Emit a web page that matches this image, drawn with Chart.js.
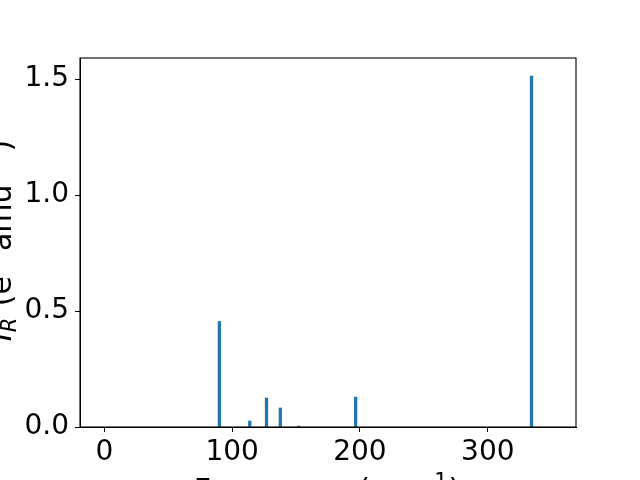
<!DOCTYPE html>
<html>
<head>
<meta charset="utf-8">
<script src="https://cdn.jsdelivr.net/npm/chart.js@4.4.1/dist/chart.umd.min.js"></script>
<style>
  body { margin: 0; background: #fff; }
  #wrap { width: 640px; height: 480px; }
</style>
</head>
<body>
<div id="wrap"><canvas id="irChart" width="640" height="480"></canvas></div>
<script>
// frequencies (cm^-1) and IR intensities
const frequencies = [90.0, 113.8, 126.9, 137.7, 152.0, 196.6, 334.2];
const intensities = [0.455, 0.026, 0.125, 0.082, 0.004, 0.129, 1.513];
const xTicks = [0, 100, 200, 300];
const yTicks = [0.0, 0.5, 1.0, 1.5];

const FONT = 'DejaVu Sans';
const BIG = 28;
const TITLE = 30;
const SMALL = 21;

// draws text pieces with sub/superscripts, centred on (0,0) of current transform
const drawRich = (ctx, parts) => {
    let total = 0;
    parts.forEach(p => {
        ctx.font = (p.italic ? 'italic ' : '') + p.size + 'px "' + FONT + '"';
        p.w = ctx.measureText(p.t).width + (p.gap || 0);
        total += p.w;
    });
    let x = -total / 2;
    parts.forEach(p => {
        ctx.font = (p.italic ? 'italic ' : '') + p.size + 'px "' + FONT + '"';
        ctx.fillText(p.t, x, p.dy || 0);
        x += p.w;
    });
};

const frameAndTitles = {
    id: 'frameAndTitles',
    afterDraw(chart) {
        const ctx = chart.ctx;
        const a = chart.chartArea;
        ctx.save();
        ctx.strokeStyle = '#000';
        ctx.lineWidth = 1.1;
        ctx.strokeRect(a.left, a.top, a.right - a.left, a.bottom - a.top);

        ctx.fillStyle = '#000';
        ctx.textBaseline = 'alphabetic';
        ctx.textAlign = 'left';

        // x title
        ctx.save();
        ctx.translate((a.left + a.right) / 2 - 1, 500);
        drawRich(ctx, [
            { t: 'Frequency (cm', size: TITLE, gap: 1 },
            { t: '\u22121', size: SMALL, dy: -12, gap: 1 },
            { t: ')', size: TITLE }
        ]);
        ctx.restore();

        // y title
        ctx.save();
        ctx.translate(11, (a.top + a.bottom) / 2 - 2);
        ctx.rotate(-Math.PI / 2);
        drawRich(ctx, [
            { t: 'I', size: TITLE, italic: true },
            { t: 'R', size: SMALL, italic: true, dy: 5, gap: 2 },
            { t: ' (e', size: TITLE, gap: 1 },
            { t: '2', size: SMALL, dy: -12, gap: 1 },
            { t: ' amu', size: TITLE, gap: 1 },
            { t: '\u22121', size: SMALL, dy: -12, gap: 1 },
            { t: ')', size: TITLE }
        ]);
        ctx.restore();
        ctx.restore();
    }
};

new Chart(document.getElementById('irChart'), {
    type: 'bar',
    data: {
        datasets: [{
            data: frequencies.map((f, i) => ({ x: f, y: intensities[i] })),
            backgroundColor: '#1f77b4',
            borderWidth: 0,
            barThickness: 2.6
        }]
    },
    options: {
        responsive: false,
        animation: false,
        layout: { padding: { top: 58, right: 64, left: 0, bottom: 0 } },
        plugins: {
            legend: { display: false },
            tooltip: { enabled: false }
        },
        scales: {
            x: {
                type: 'linear',
                min: -19,
                max: 369,
                offset: false,
                afterBuildTicks: s => { s.ticks = xTicks.map(v => ({ value: v })); },
                afterFit: s => { s.height = 53; },
                grid: {
                    drawOnChartArea: false,
                    offset: false,
                    tickLength: 5,
                    tickColor: '#000',
                    tickWidth: 1
                },
                border: { color: '#000' },
                ticks: {
                    color: '#000',
                    padding: 4,
                    autoSkip: false,
                    maxRotation: 0,
                    font: { family: FONT, size: BIG }
                }
            },
            y: {
                min: 0,
                max: 1.591,
                afterBuildTicks: s => { s.ticks = yTicks.map(v => ({ value: v })); },
                afterFit: s => { s.width = 80; },
                grid: {
                    drawOnChartArea: false,
                    tickLength: 5,
                    tickColor: '#000',
                    tickWidth: 1
                },
                border: { color: '#000' },
                ticks: {
                    color: '#000',
                    padding: 6,
                    font: { family: FONT, size: BIG },
                    callback: v => v.toFixed(1)
                }
            }
        }
    },
    plugins: [frameAndTitles]
});
</script>
</body>
</html>
